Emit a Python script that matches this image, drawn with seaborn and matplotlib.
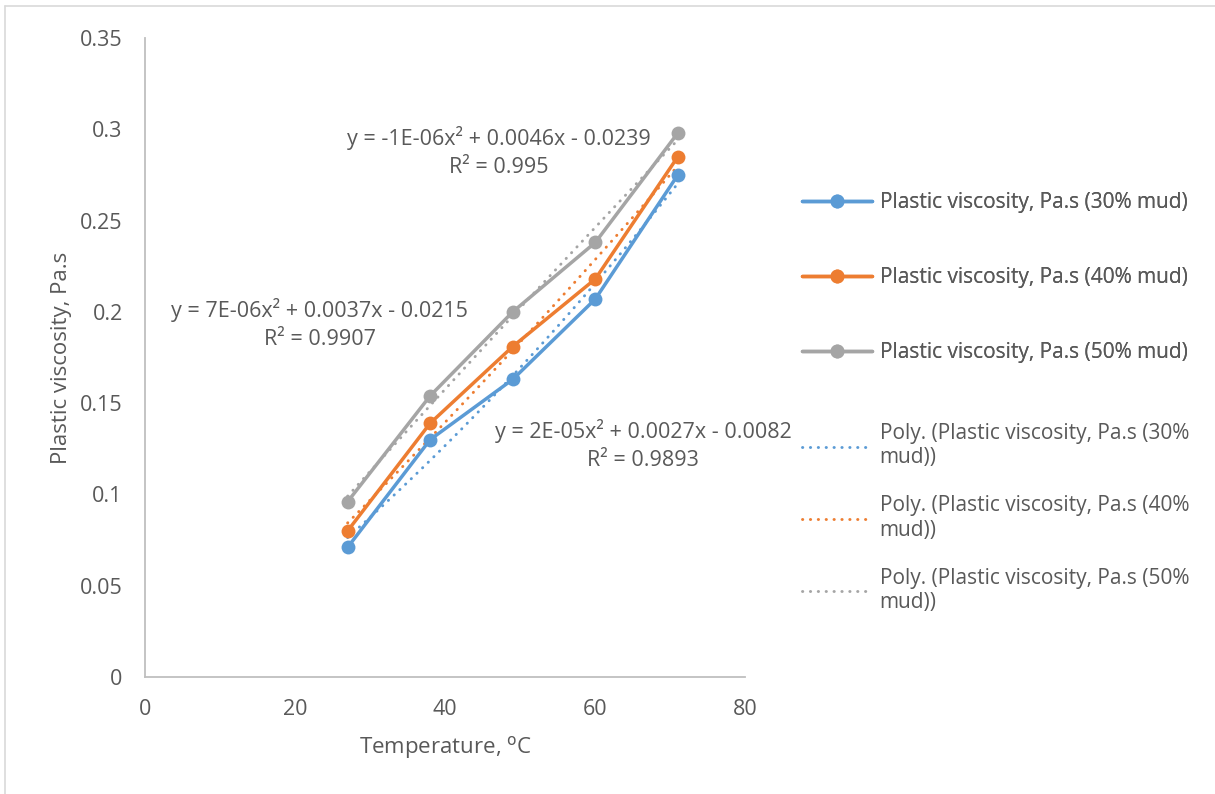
import numpy as np
import pandas as pd
import matplotlib
matplotlib.use('Agg')
import matplotlib.pyplot as plt
import seaborn as sns
from matplotlib.lines import Line2D

# data
temp = [27, 38, 49, 60, 71]
pv_30 = [0.071, 0.130, 0.163, 0.207, 0.275]
pv_40 = [0.080, 0.139, 0.181, 0.218, 0.285]
pv_50 = [0.096, 0.154, 0.200, 0.238, 0.298]

names = ['Plastic viscosity, Pa.s (30% mud)',
         'Plastic viscosity, Pa.s (40% mud)',
         'Plastic viscosity, Pa.s (50% mud)']
poly_names = ['Poly. (Plastic viscosity, Pa.s (30%\nmud))',
              'Poly. (Plastic viscosity, Pa.s (40%\nmud))',
              'Poly. (Plastic viscosity, Pa.s (50%\nmud))']
eq_text = ['y = 2E-05x\u00b2 + 0.0027x - 0.0082\nR\u00b2 = 0.9893',
           'y = 7E-06x\u00b2 + 0.0037x - 0.0215\nR\u00b2 = 0.9907',
           'y = -1E-06x\u00b2 + 0.0046x - 0.0239\nR\u00b2 = 0.995']
eq_pos = [(66.4, 0.127), (23.3, 0.1935), (47.1, 0.2875)]

colors = ['#5B9BD5', '#ED7D31', '#A5A5A5']
txt_col = '#595959'

df = pd.DataFrame({'Temperature': temp * 3,
                   'PV': pv_30 + pv_40 + pv_50,
                   'Series': [names[0]] * 5 + [names[1]] * 5 + [names[2]] * 5})

sns.set_style('white')
plt.rcParams['font.family'] = ['Open Sans', 'DejaVu Sans']

fig = plt.figure(figsize=(12.15, 7.94), dpi=100)
ax = fig.add_axes([0.1193, 0.1474, 0.4942, 0.8047])

# trendlines first (drawn under the series)
for i, n in enumerate(names):
    sub = df[df['Series'] == n]
    sns.regplot(data=sub, x='Temperature', y='PV', order=2, ci=None, scatter=False, ax=ax,
                line_kws=dict(color=colors[i], lw=2.1, ls=(0, (0.1, 2.6)),
                              dash_capstyle='round'))

sns.lineplot(data=df, x='Temperature', y='PV', hue='Series', palette=colors,
             marker='o', markersize=10, markeredgewidth=0, lw=2.5, ax=ax, legend=False)

for t, (xx, yy) in zip(eq_text, eq_pos):
    ax.text(xx, yy, t, ha='center', va='center', ma='center', fontsize=15.5,
            color=txt_col, linespacing=1.45)

ax.set_xlim(0, 80)
ax.set_ylim(0, 0.35)
ax.set_xticks([0, 20, 40, 60, 80])
ax.set_yticks([0, 0.05, 0.1, 0.15, 0.2, 0.25, 0.3, 0.35])
ax.set_yticklabels(['0', '0.05', '0.1', '0.15', '0.2', '0.25', '0.3', '0.35'])
ax.tick_params(length=0, labelsize=15.5, colors=txt_col)
ax.tick_params(axis='x', pad=16)
ax.tick_params(axis='y', pad=16)
for s in ['top', 'right']:
    ax.spines[s].set_visible(False)
for s in ['left', 'bottom']:
    ax.spines[s].set_color('#BFBFBF')
    ax.spines[s].set_linewidth(1.3)
ax.set_xlabel('Temperature, $^{\\mathrm{o}}$C', fontsize=16, color=txt_col, labelpad=10)
ax.set_ylabel('Plastic viscosity, Pa.s', fontsize=16, color=txt_col, labelpad=6)

# legends
h1 = [Line2D([], [], color=c, lw=2.5, marker='o', markersize=10, markeredgewidth=0)
      for c in colors]
h2 = [Line2D([], [], color=c, lw=2.1, ls=(0, (0.1, 2.6)), dash_capstyle='round')
      for c in colors]
leg1 = fig.legend(h1, names, loc='upper left', bbox_to_anchor=(0.660, 0.758),
                  frameon=False, fontsize=15, labelcolor=txt_col, numpoints=1,
                  handlelength=3.35, handletextpad=0.38, labelspacing=2.6,
                  borderaxespad=0, borderpad=0)
fig.add_artist(leg1)
fig.legend(h2, poly_names, loc='upper left', bbox_to_anchor=(0.660, 0.467),
           frameon=False, fontsize=15, labelcolor=txt_col,
           handlelength=3.35, handletextpad=0.38, labelspacing=1.3,
           borderaxespad=0, borderpad=0)

# chart frame (top and left edges only visible)
fig.add_artist(Line2D([5 / 1215, 1], [1 - 6 / 794, 1 - 6 / 794], color='#D9D9D9', lw=1.2))
fig.add_artist(Line2D([5 / 1215, 5 / 1215], [0, 1 - 6 / 794], color='#D9D9D9', lw=1.2))

fig.savefig('out.png', dpi=100, facecolor='white')
